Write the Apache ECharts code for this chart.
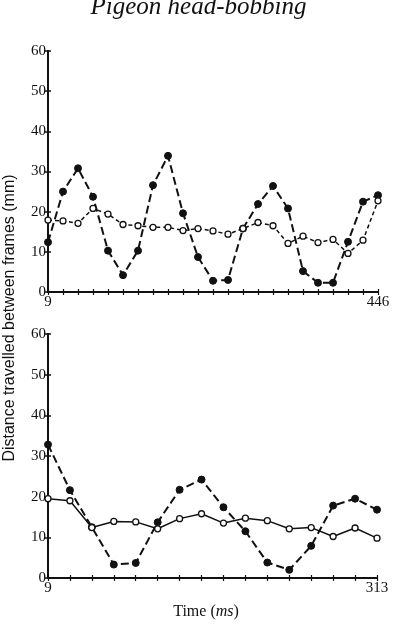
<!DOCTYPE html>
<html>
<head>
<meta charset="utf-8">
<script src="https://cdn.jsdelivr.net/npm/echarts@6/dist/echarts.min.js"></script>
<style>
  html, body { margin: 0; padding: 0; background: #fff; }
  #chart { width: 397px; height: 629px; }
</style>
</head>
<body>
<div id="chart"></div>
<script>
// top panel: 23 frames, 9 -> 446 ms
const topFrames = ['9', '', '', '', '', '', '', '', '', '', '', '', '', '', '', '', '', '', '', '', '', '', '446'];
const topFilled = [12.4, 25, 30.8, 23.7, 10.3, 4.2, 10.3, 26.6, 33.9, 19.6, 8.7, 2.8, 3.0, 15.8, 21.9, 26.4, 20.8, 5.2, 2.3, 2.3, 12.5, 22.5, 24.1];
const topOpen = [17.9, 17.7, 17.1, 20.8, 19.4, 16.8, 16.5, 16.1, 16.1, 15.3, 15.8, 15.2, 14.4, 15.8, 17.3, 16.5, 12.1, 13.9, 12.3, 13.1, 9.6, 12.9, 22.7];

// bottom panel: 16 frames, 9 -> 313 ms
const bottomFrames = ['9', '', '', '', '', '', '', '', '', '', '', '', '', '', '', '313'];
const bottomFilled = [32.8, 21.6, 12.5, 3.3, 3.7, 13.7, 21.7, 24.2, 17.4, 11.5, 3.8, 2.0, 7.9, 17.8, 19.5, 16.8];
const bottomOpen = [19.5, 19.0, 12.4, 13.9, 13.8, 12.1, 14.6, 15.8, 13.5, 14.7, 14.1, 12.1, 12.4, 10.2, 12.3, 9.8];

const yTicks = [0, 10, 20, 30, 40, 50, 60];

const serif = 'Liberation Serif';
const ink = '#111';

// two axes per grid: one for outer ticks + labels, one for inner ticks
function xAxes(cats, grid) {
    const base = {
        type: 'category',
        gridIndex: grid,
        position: 'bottom',
        data: cats,
        boundaryGap: false,
        axisLine: { lineStyle: { color: ink, width: 2 } },
        splitLine: { show: false }
    };
    return [
        Object.assign({}, base, {
            axisTick: { show: true, interval: 0, length: 3, lineStyle: { color: ink, width: 1.2 } },
            axisLabel: { interval: 0, color: ink, fontFamily: serif, fontSize: 15, margin: 3 }
        }),
        Object.assign({}, base, {
            axisTick: { show: true, inside: true, interval: 0, length: 3, lineStyle: { color: ink, width: 1.2 } },
            axisLabel: { show: false }
        })
    ];
}

function yAxes(grid) {
    const base = {
        type: 'value',
        gridIndex: grid,
        position: 'left',
        min: yTicks[0],
        max: yTicks[yTicks.length - 1],
        interval: 10,
        axisLine: { show: true, lineStyle: { color: ink, width: 2 } },
        splitLine: { show: false }
    };
    return [
        Object.assign({}, base, {
            axisTick: { show: true, length: 4, lineStyle: { color: ink, width: 1.5 } },
            axisLabel: { color: ink, fontFamily: serif, fontSize: 15, margin: 2 }
        }),
        Object.assign({}, base, {
            axisTick: { show: true, inside: true, length: 3, lineStyle: { color: ink, width: 1.5 } },
            axisLabel: { show: false }
        })
    ];
}

function filled(data, xi, yi) {
    return {
        type: 'line', xAxisIndex: xi, yAxisIndex: yi, data: data,
        symbol: 'circle', symbolSize: 7, z: 3,
        itemStyle: { color: ink, borderColor: ink },
        lineStyle: { color: ink, width: 2, type: [8, 4] }
    };
}

function open(data, xi, yi, dash) {
    return {
        type: 'line', xAxisIndex: xi, yAxisIndex: yi, data: data,
        symbol: 'circle', symbolSize: 6, z: 4,
        itemStyle: { color: '#fff', borderColor: ink, borderWidth: 1.3 },
        lineStyle: { color: ink, width: 1.5, type: dash }
    };
}

const chart = echarts.init(document.getElementById('chart'), null, { renderer: 'canvas' });
chart.setOption({
    animation: false,
    backgroundColor: '#fff',
    title: {
        text: 'Pigeon head-bobbing',
        left: 'center',
        top: -10,
        textStyle: { fontFamily: serif, fontStyle: 'italic', fontWeight: 'normal', fontSize: 25, color: ink }
    },
    grid: [
        { left: 48, right: 19, top: 51, height: 241 },
        { left: 48, right: 20, top: 334, height: 244 }
    ],
    xAxis: xAxes(topFrames, 0).concat(xAxes(bottomFrames, 1)),
    yAxis: yAxes(0).concat(yAxes(1)),
    series: [
        filled(topFilled, 0, 0),
        open(topOpen, 0, 0, [4, 3]),
        filled(bottomFilled, 2, 2),
        open(bottomOpen, 2, 2, 'solid')
    ],
    graphic: [
        {
            type: 'text',
            x: 2, y: 318,
            rotation: Math.PI / 2,
            style: {
                text: 'Distance travelled between frames (mm)',
                fontFamily: 'Liberation Sans', fontSize: 16, fill: ink,
                align: 'center', verticalAlign: 'top'
            }
        },
        {
            type: 'text',
            x: 206, y: 612,
            style: {
                rich: {
                    n: { fontFamily: serif, fontSize: 16, fill: ink },
                    i: { fontFamily: serif, fontSize: 16, fontStyle: 'italic', fill: ink }
                },
                text: '{n|Time (}{i|ms}{n|)}',
                align: 'center', verticalAlign: 'middle'
            }
        }
    ]
});
</script>
</body>
</html>
